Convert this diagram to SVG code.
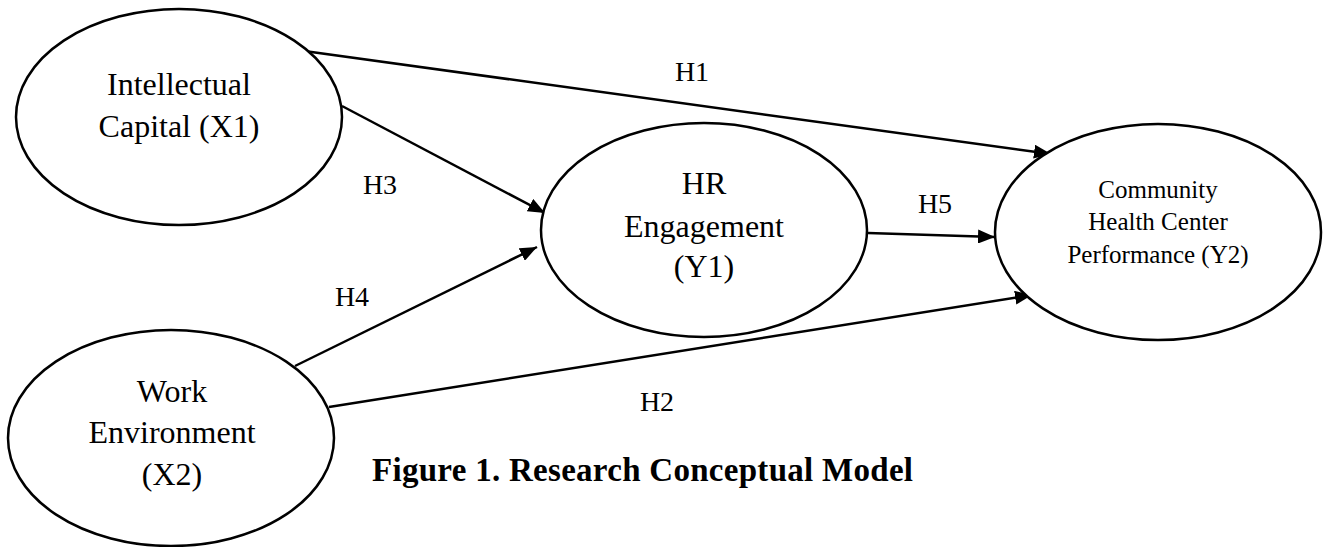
<svg xmlns="http://www.w3.org/2000/svg" width="1327" height="547" viewBox="0 0 1327 547">
  <style>
    .node ellipse { fill: #ffffff; stroke: #000000; stroke-width: 2.5; }
    .t { font-family: "Liberation Serif", "Times New Roman", serif; fill: #000000; text-anchor: middle; }
    .big { font-size: 32px; }
    .small { font-size: 25px; }
    .lbl { font-family: "Liberation Serif", "Times New Roman", serif; font-size: 28px; fill: #000000; text-anchor: middle; }
    .title { font-family: "Liberation Serif", "Times New Roman", serif; font-size: 33px; font-weight: bold; fill: #000000; }
    .edge { stroke: #000000; stroke-width: 2.5; fill: none; marker-end: url(#arrow); }
  </style>
  <defs>
    <marker id="arrow" markerUnits="userSpaceOnUse" markerWidth="18" markerHeight="14" refX="17" refY="7" orient="auto">
      <path d="M0,0 L17,7 L0,14 z" fill="#000000"/>
    </marker>
  </defs>
  <rect width="1327" height="547" fill="#ffffff"/>

  <g id="connectors">
    <line class="edge" x1="297" y1="50" x2="1051" y2="154"/>
    <line class="edge" x1="342" y1="106" x2="545" y2="213"/>
    <line class="edge" x1="295" y1="366" x2="537" y2="247"/>
    <line class="edge" x1="329" y1="407" x2="1032" y2="295"/>
    <line class="edge" x1="868" y1="233" x2="995" y2="237"/>
  </g>

  <g id="node-x1" class="node">
    <ellipse cx="179" cy="117" rx="163" ry="108"/>
    <text class="t big" x="179" y="95">Intellectual</text>
    <text class="t big" x="179" y="137">Capital (X1)</text>
  </g>

  <g id="node-y1" class="node">
    <ellipse cx="704" cy="230" rx="163" ry="107"/>
    <text class="t big" x="704" y="194">HR</text>
    <text class="t big" x="704" y="237">Engagement</text>
    <text class="t big" x="704" y="277">(Y1)</text>
  </g>

  <g id="node-y2" class="node">
    <ellipse cx="1158" cy="232" rx="163" ry="108"/>
    <text class="t small" x="1158" y="198">Community</text>
    <text class="t small" x="1158" y="230">Health Center</text>
    <text class="t small" x="1158" y="263">Performance (Y2)</text>
  </g>

  <g id="node-x2" class="node">
    <ellipse cx="171" cy="438" rx="163" ry="108"/>
    <text class="t big" x="172" y="402">Work</text>
    <text class="t big" x="172" y="443">Environment</text>
    <text class="t big" x="172" y="485">(X2)</text>
  </g>

  <g id="labels">
    <text class="lbl" x="692" y="81">H1</text>
    <text class="lbl" x="380" y="194">H3</text>
    <text class="lbl" x="935" y="213">H5</text>
    <text class="lbl" x="352" y="306">H4</text>
    <text class="lbl" x="657" y="411">H2</text>
  </g>

  <text class="title" x="372" y="481" textLength="541" lengthAdjust="spacing">Figure 1. Research Conceptual Model</text>
</svg>
